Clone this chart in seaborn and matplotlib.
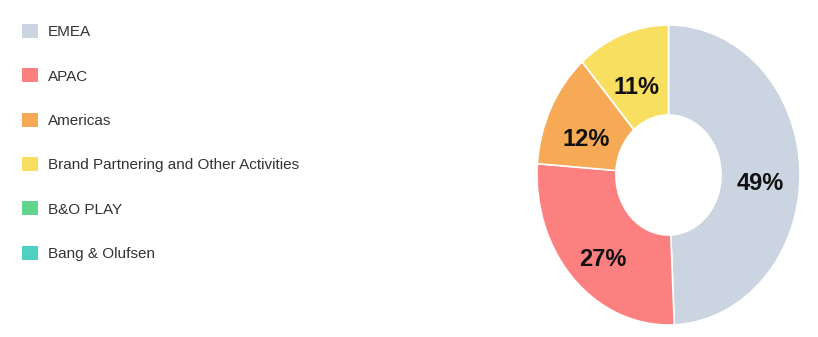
import matplotlib
matplotlib.use("Agg")
import matplotlib.pyplot as plt
from matplotlib.patches import Patch
import seaborn as sns

categories = ["EMEA", "APAC", "Americas", "Brand Partnering and Other Activities",
              "B&O PLAY", "Bang & Olufsen"]
values = [49.3, 26.9, 12.4, 11.4, 0, 0]
pct_labels = ["49%", "27%", "12%", "11%", "", ""]
colors = ["#cbd5e1", "#fd8080", "#f6aa55", "#f8df60", "#62d58c", "#4fd0c3"]

sns.set_theme(style="white")
plt.rcParams["font.family"] = ["Liberation Sans", "DejaVu Sans"]

W, H = 818, 337
fig = plt.figure(figsize=(W / 100, H / 100), dpi=100)
fig.patch.set_facecolor("white")

# donut (slightly stretched vertically, as in the reference)
left, right, top, bottom = 537, 800, 25, 325
ax = fig.add_axes([left / W, 1 - bottom / H, (right - left) / W, (bottom - top) / H])

nz = [i for i, v in enumerate(values) if v > 0]
wedges, texts, autotexts = ax.pie(
    [values[i] for i in nz],
    colors=[colors[i] for i in nz],
    startangle=90,
    counterclock=False,
    radius=1.0,
    autopct="%.0f%%",
    pctdistance=0.7,
    wedgeprops=dict(width=0.6, edgecolor="white", linewidth=1.2),
    textprops=dict(fontsize=17, fontweight="bold", color="#111111"),
)
for t, i in zip(autotexts, nz):
    t.set_text(pct_labels[i])
    x, y = t.get_position()
    t.set_position((x, y - 0.075))
ax.set_aspect("auto")
ax.set_xlim(-1, 1)
ax.set_ylim(-1, 1)
ax.axis("off")

handles = [Patch(facecolor=c, edgecolor="none") for c in colors]
leg = fig.legend(
    handles, categories,
    loc="upper left",
    bbox_to_anchor=(22 / W, 1 - 24 / H),
    bbox_transform=fig.transFigure,
    frameon=False,
    borderpad=0, borderaxespad=0,
    handlelength=1.05, handleheight=1.05,
    handletextpad=0.65,
    labelspacing=1.9,
    prop=dict(size=11),
    labelcolor="#333333",
)

fig.savefig("out.png", dpi=100, facecolor="white")
